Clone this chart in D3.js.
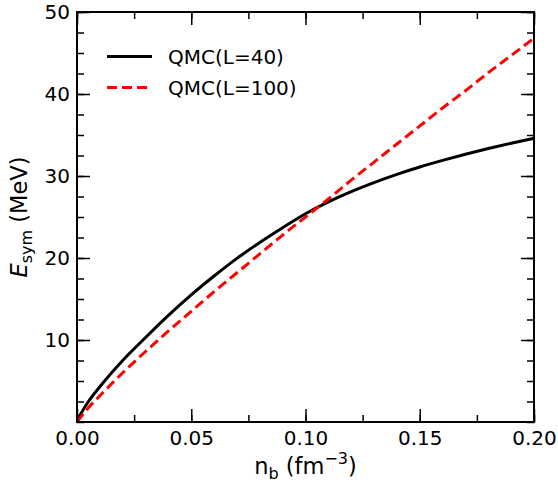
<!DOCTYPE html>
<html>
<head>
<meta charset="utf-8">
<script src="https://cdn.jsdelivr.net/npm/d3@7"></script>
<style>
  body { margin: 0; background: #fff; }
  text { font-family: "DejaVu Sans", sans-serif; }
</style>
</head>
<body>
<script>
// values
var nb = [0, 0.005, 0.01, 0.02, 0.03, 0.04, 0.05, 0.06, 0.07, 0.08, 0.09, 0.10,
          0.11, 0.12, 0.13, 0.14, 0.15, 0.16, 0.17, 0.18, 0.19, 0.20];
var esymL40 = [0.2, 2.5, 4.3, 7.5, 10.3, 13.0, 15.5, 17.8, 19.95, 21.9, 23.7, 25.4,
               26.85, 28.1, 29.2, 30.2, 31.1, 31.9, 32.65, 33.35, 34.0, 34.6];
var esymL100 = [0, 1.75, 3.2, 6.0, 8.6, 11.1, 13.5, 15.9, 18.2, 20.5, 22.8, 25.0,
                27.2, 29.5, 31.7, 33.9, 36.1, 38.3, 40.4, 42.6, 44.7, 46.8];
var seriesNames = ["QMC(L=40)", "QMC(L=100)"];
var xTicks = [0, 0.05, 0.10, 0.15, 0.20];
var yTicks = [10, 20, 30, 40, 50];

var W = 558, H = 484;
var margin = {left: 77, right: 24, top: 12, bottom: 62};
var pLeft = margin.left, pRight = W - margin.right;
var pTop = margin.top, pBottom = H - margin.bottom;

var svg = d3.select("body").append("svg")
    .attr("width", W).attr("height", H);

var x = d3.scaleLinear().domain([0, 0.2]).range([pLeft, pRight]);
var y = d3.scaleLinear().domain([0, 50]).range([pBottom, pTop]);

var series = [
  {name: seriesNames[0], vals: esymL40, color: "#000", dash: null},
  {name: seriesNames[1], vals: esymL100, color: "#ff0000", dash: "10,5"}
];

var line = d3.line()
    .x(function(d) { return x(d[0]); })
    .y(function(d) { return y(d[1]); })
    .curve(d3.curveMonotoneX);

var plot = svg.append("g");
plot.append("clipPath").attr("id", "clip")
  .append("rect")
    .attr("x", pLeft).attr("y", pTop)
    .attr("width", pRight - pLeft)
    .attr("height", pBottom - pTop);

series.forEach(function(s) {
  plot.append("path")
      .datum(nb.map(function(n, i) { return [n, s.vals[i]]; }))
      .attr("clip-path", "url(#clip)")
      .attr("fill", "none")
      .attr("stroke", s.color)
      .attr("stroke-width", 3)
      .attr("stroke-dasharray", s.dash)
      .attr("d", line);
});

// axes: ticks pointing inward on all four sides
var xMinor = d3.range(0, 0.2001, 0.025);
var yMinor = d3.range(0, 50.001, 2.5);

function styleAxis(g) {
  g.selectAll(".domain").remove();
  g.selectAll(".tick line").attr("stroke", "#000").attr("stroke-width", 1.5);
  g.selectAll("text").attr("font-size", "20px").attr("fill", "#000");
}

function addXAxis(pos) {
  return svg.append("g").attr("transform", "translate(0," + pos + ")");
}
function addYAxis(pos) {
  return svg.append("g").attr("transform", "translate(" + pos + ",0)");
}

// bottom
addXAxis(pBottom).call(d3.axisTop(x).tickValues(xMinor).tickSize(7).tickFormat("")).call(styleAxis);
addXAxis(pBottom).call(d3.axisTop(x).tickValues(xTicks).tickSize(13).tickFormat("")).call(styleAxis);
addXAxis(pBottom).call(d3.axisBottom(x).tickValues(xTicks).tickSize(0).tickPadding(9)
    .tickFormat(d3.format(".2f"))).call(styleAxis);
// top
addXAxis(pTop).call(d3.axisBottom(x).tickValues(xMinor).tickSize(7).tickFormat("")).call(styleAxis);
addXAxis(pTop).call(d3.axisBottom(x).tickValues(xTicks).tickSize(13).tickFormat("")).call(styleAxis);
// left
addYAxis(pLeft).call(d3.axisRight(y).tickValues(yMinor).tickSize(7).tickFormat("")).call(styleAxis);
addYAxis(pLeft).call(d3.axisRight(y).tickValues(yTicks).tickSize(13).tickFormat("")).call(styleAxis);
addYAxis(pLeft).call(d3.axisLeft(y).tickValues(yTicks).tickSize(0).tickPadding(7)).call(styleAxis);
// right
addYAxis(pRight).call(d3.axisLeft(y).tickValues(yMinor).tickSize(7).tickFormat("")).call(styleAxis);
addYAxis(pRight).call(d3.axisLeft(y).tickValues(yTicks).tickSize(13).tickFormat("")).call(styleAxis);

// frame
svg.append("rect")
    .attr("x", pLeft).attr("y", pTop)
    .attr("width", pRight - pLeft).attr("height", pBottom - pTop)
    .attr("fill", "none").attr("stroke", "#000").attr("stroke-width", 2);

// axis titles
var xt = svg.append("text")
    .attr("x", (pLeft + pRight) / 2).attr("y", 474)
    .attr("text-anchor", "middle").attr("font-size", "22.5px");
xt.append("tspan").text("n");
xt.append("tspan").attr("font-size", "16px").attr("dy", 5).text("b");
xt.append("tspan").attr("dy", -5).text(" (fm");
xt.append("tspan").attr("font-size", "16px").attr("dy", -10).text("\u22123");
xt.append("tspan").attr("dy", 10).text(")");

var yt = svg.append("text")
    .attr("transform", "translate(27," + ((pTop + pBottom) / 2) + ") rotate(-90)")
    .attr("text-anchor", "middle").attr("font-size", "22.5px");
yt.append("tspan").attr("font-style", "italic").text("E");
yt.append("tspan").attr("font-size", "16px").attr("dy", 5).text("sym");
yt.append("tspan").attr("dy", -5).text(" (MeV)");

// legend
var legend = svg.append("g");
series.forEach(function(s, i) {
  var ly = 56.5 + i * 31;
  legend.append("line")
      .attr("x1", 107).attr("x2", 152).attr("y1", ly).attr("y2", ly)
      .attr("stroke", s.color).attr("stroke-width", 3)
      .attr("stroke-dasharray", s.dash);
  legend.append("text")
      .attr("x", 168).attr("y", ly + 7.5)
      .attr("font-size", "20px")
      .text(s.name);
});
</script>
</body>
</html>
